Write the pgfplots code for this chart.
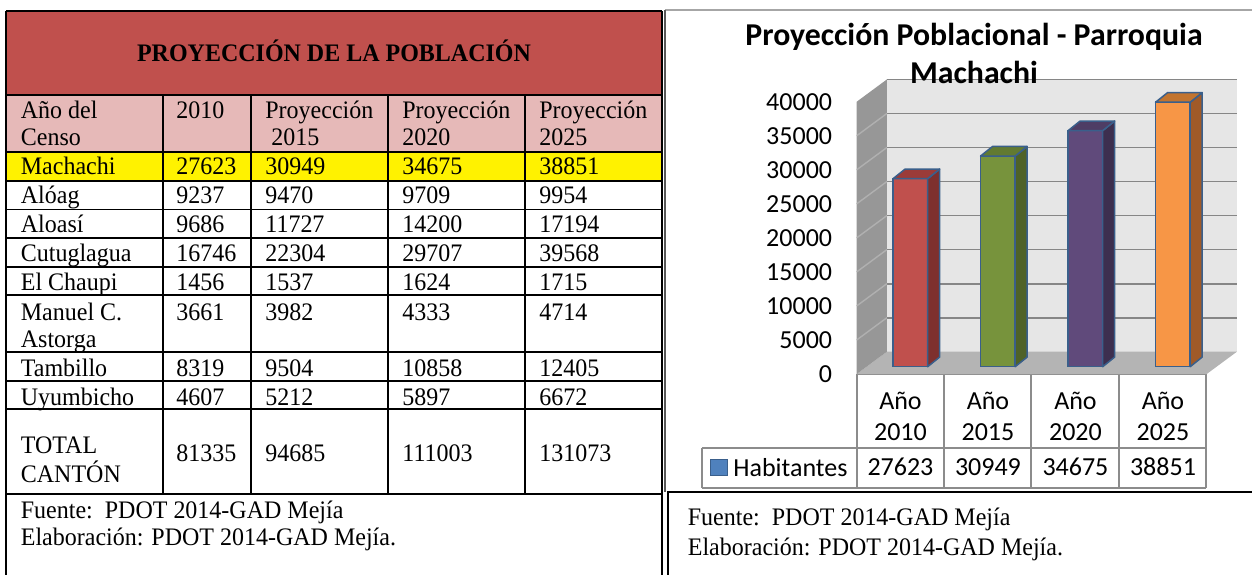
\documentclass[border=0pt]{standalone}
\usepackage{pgfplots}
\pgfplotsset{compat=1.18}
\usepackage{fontspec}
\setmainfont{Liberation Serif}[FakeStretch=0.952]
\newfontfamily\calfont{Carlito}
\definecolor{hdrred}{HTML}{C0504D}
\definecolor{hdrpink}{HTML}{E6B9B8}
\definecolor{outl}{HTML}{3A5F8B}
\definecolor{legblue}{HTML}{4F81BD}
\definecolor{backw}{HTML}{E6E6E6}
\definecolor{leftw}{HTML}{979797}
\definecolor{floorw}{HTML}{B4B4B4}
\definecolor{gridc}{HTML}{868686}
\definecolor{lwline}{HTML}{B0B0B0}
\definecolor{tabgray}{HTML}{8C8C8C}
\definecolor{rfront}{HTML}{C0504D}\definecolor{rside}{HTML}{7E302E}\definecolor{rtop}{HTML}{9B3B39}
\definecolor{gfront}{HTML}{77933C}\definecolor{gside}{HTML}{4F6228}\definecolor{gtop}{HTML}{627A31}
\definecolor{pfront}{HTML}{604A7B}\definecolor{pside}{HTML}{3D2F4F}\definecolor{ptop}{HTML}{4E3D65}
\definecolor{ofront}{HTML}{F79646}\definecolor{oside}{HTML}{A05A28}\definecolor{otop}{HTML}{C2742F}
\newcommand\T[3]{\node[anchor=base west,inner sep=0pt,font=\fontsize{12.6}{14.4}\selectfont] at (#1,#2) {#3};}
\newcommand\Row[6]{\T{20.5}{#1}{#2}\T{176}{#1}{#3}\T{265}{#1}{#4}\T{402}{#1}{#5}\T{539}{#1}{#6}}
\begin{document}
\begin{tikzpicture}
\path[use as bounding box] (0,0) rectangle (626pt,-287.5pt);
\begin{scope}[x=0.5pt,y=-0.5pt]
% ---------- left table ----------
\fill[hdrred] (6,11) rectangle (662,95);
\fill[hdrpink] (6,95) rectangle (662,152);
\fill[yellow] (6,152) rectangle (662,181);
\begin{scope}[line width=0.8pt]
\foreach \yy in {11,95,152,181,209.5,238,267,295,352,381,409,494}
  \draw (6,\yy) -- (662,\yy);
\draw (6,11) -- (6,575);
\draw (662,11) -- (662,575);
\foreach \xx in {163,251,388,525}
  \draw (\xx,95) -- (\xx,494);
\end{scope}
\node[anchor=base,inner sep=0pt,font=\bfseries\fontsize{12.6}{14.4}\selectfont] at (334,61.6) {PROYECCIÓN DE LA POBLACIÓN};
\T{20.5}{118.3}{Año del}\T{20.5}{145.8}{Censo}
\T{176}{118.3}{2010}
\T{265}{118.3}{Proyección}\T{271}{145.8}{2015}
\T{402}{118.3}{Proyección}\T{402}{145.8}{2020}
\T{539}{118.3}{Proyección}\T{539}{145.8}{2025}
\Row{174.3}{Machachi}{27623}{30949}{34675}{38851}
\Row{203.3}{Alóag}{9237}{9470}{9709}{9954}
\Row{232.3}{Aloasí}{9686}{11727}{14200}{17194}
\Row{261.3}{Cutuglagua}{16746}{22304}{29707}{39568}
\Row{290.3}{El Chaupi}{1456}{1537}{1624}{1715}
\Row{320.3}{Manuel C.}{3661}{3982}{4333}{4714}
\T{20.5}{347.3}{Astorga}
\Row{376.3}{Tambillo}{8319}{9504}{10858}{12405}
\Row{405.3}{Uyumbicho}{4607}{5212}{5897}{6672}
\Row{461.3}{}{81335}{94685}{111003}{131073}
\T{20.5}{453.8}{TOTAL}\T{20.5}{482.3}{CANTÓN}
\T{20.5}{518.3}{Fuente:\ \ PDOT 2014-GAD Mejía}
\T{20.5}{545.3}{Elaboración: PDOT 2014-GAD Mejía.}
% ---------- right frame ----------
\draw[gray!70,line width=0.6pt] (665,10) -- (1252,10);
\draw[gray!70!black,line width=0.6pt] (665,10) -- (665,491.7);
\draw[line width=0.9pt] (1252,491.7) -- (668,491.7) -- (668,575);
\T{687.5}{525}{Fuente:\ \ PDOT 2014-GAD Mejía}
\T{687.5}{555}{Elaboración: PDOT 2014-GAD Mejía.}
% chart data table
\begin{scope}[tabgray,line width=1pt]
\draw (857,374) -- (1206,374);
\foreach \xx in {857,944,1031,1118.5,1206}
  \draw (\xx,374) -- (\xx,488.3);
\draw (702.3,447.7) -- (1206,447.7);
\draw (702.3,488.3) -- (1206,488.3);
\draw (702.3,447.7) -- (702.3,488.3);
\end{scope}
\filldraw[fill=legblue,draw=outl,line width=0.5pt] (710.7,459) rectangle (727.3,475.7);
\node[anchor=base west,inner sep=0pt,font=\calfont\fontsize{13}{15.5}\selectfont] at (733,476) {Habitantes};
\end{scope}
% ---------- chart ----------
\begin{axis}[
  at={(433.3pt,-183.35pt)}, anchor=south west,
  width=175pt, height=136.15pt, scale only axis,
  xmin=-0.5, xmax=3.5, ymin=0, ymax=40000,
  clip=false,
  axis line style={draw=none}, major tick length=0pt,
  scaled y ticks=false,
  /pgf/number format/1000 sep={},
  /pgf/number format/assume math mode=true,
  ytick={0,5000,...,40000},
  yticklabel style={font=\calfont\fontsize{13}{15.5}\selectfont, anchor=east, inner sep=0pt, xshift=-17.05pt, yshift=-3.65pt},
  xtick={0,1,2,3},
  xticklabels={{\begin{tabular}[t]{@{}c@{}}Año\\2010\\[2.3pt]27623\end{tabular}},
               {\begin{tabular}[t]{@{}c@{}}Año\\2015\\[2.3pt]30949\end{tabular}},
               {\begin{tabular}[t]{@{}c@{}}Año\\2020\\[2.3pt]34675\end{tabular}},
               {\begin{tabular}[t]{@{}c@{}}Año\\2025\\[2.3pt]38851\end{tabular}}},
  xticklabel style={font=\calfont\fontsize{13}{15.5}\selectfont, anchor=base, inner sep=0pt, xshift=-4.95pt, yshift=-21.15pt},
]
% walls
\addplot[fill=backw,draw=none] coordinates {(-0.268,2204) (3.732,2204) (3.732,42204) (-0.268,42204)} -- cycle;
\addplot[fill=floorw,draw=none] coordinates {(-0.613,-1071) (3.387,-1071) (3.732,2204) (-0.268,2204)} -- cycle;
\addplot[fill=leftw,draw=none] coordinates {(-0.613,-1071) (-0.268,2204) (-0.268,42204) (-0.613,38929)} -- cycle;
\draw[gridc,line width=0.9pt] (axis cs:-0.268,7204) -- (axis cs:3.732,7204);
\draw[gridc,line width=0.9pt] (axis cs:-0.268,12204) -- (axis cs:3.732,12204);
\draw[gridc,line width=0.9pt] (axis cs:-0.268,17204) -- (axis cs:3.732,17204);
\draw[gridc,line width=0.9pt] (axis cs:-0.268,22204) -- (axis cs:3.732,22204);
\draw[gridc,line width=0.9pt] (axis cs:-0.268,27204) -- (axis cs:3.732,27204);
\draw[gridc,line width=0.9pt] (axis cs:-0.268,32204) -- (axis cs:3.732,32204);
\draw[gridc,line width=0.9pt] (axis cs:-0.268,37204) -- (axis cs:3.732,37204);
\draw[gridc,line width=0.9pt] (axis cs:-0.268,42204) -- (axis cs:3.732,42204);
\draw[lwline,line width=0.7pt] (axis cs:-0.613,3929) -- (axis cs:-0.268,7204);
\draw[lwline,line width=0.7pt] (axis cs:-0.613,8929) -- (axis cs:-0.268,12204);
\draw[lwline,line width=0.7pt] (axis cs:-0.613,13929) -- (axis cs:-0.268,17204);
\draw[lwline,line width=0.7pt] (axis cs:-0.613,18929) -- (axis cs:-0.268,22204);
\draw[lwline,line width=0.7pt] (axis cs:-0.613,23929) -- (axis cs:-0.268,27204);
\draw[lwline,line width=0.7pt] (axis cs:-0.613,28929) -- (axis cs:-0.268,32204);
\draw[lwline,line width=0.7pt] (axis cs:-0.613,33929) -- (axis cs:-0.268,37204);
% bars
\addplot[ybar, bar width=0.3954, bar shift=0, fill=rfront, draw=outl, line width=0.75pt] coordinates {(0,27623)};
\addplot[fill=rside, draw=outl, line width=0.75pt, line join=round] coordinates {(0.1977,0) (0.3347,1410) (0.3347,29033) (0.1977,27623)} -- cycle;
\addplot[fill=rtop, draw=outl, line width=0.75pt, line join=round] coordinates {(-0.1977,27623) (0.1977,27623) (0.3347,29033) (-0.0607,29033)} -- cycle;
\addplot[ybar, bar width=0.3954, bar shift=0, fill=gfront, draw=outl, line width=0.75pt] coordinates {(1,30949)};
\addplot[fill=gside, draw=outl, line width=0.75pt, line join=round] coordinates {(1.1977,0) (1.3347,1410) (1.3347,32359) (1.1977,30949)} -- cycle;
\addplot[fill=gtop, draw=outl, line width=0.75pt, line join=round] coordinates {(0.8023,30949) (1.1977,30949) (1.3347,32359) (0.9393,32359)} -- cycle;
\addplot[ybar, bar width=0.3954, bar shift=0, fill=pfront, draw=outl, line width=0.75pt] coordinates {(2,34675)};
\addplot[fill=pside, draw=outl, line width=0.75pt, line join=round] coordinates {(2.1977,0) (2.3347,1410) (2.3347,36085) (2.1977,34675)} -- cycle;
\addplot[fill=ptop, draw=outl, line width=0.75pt, line join=round] coordinates {(1.8023,34675) (2.1977,34675) (2.3347,36085) (1.9393,36085)} -- cycle;
\addplot[ybar, bar width=0.3954, bar shift=0, fill=ofront, draw=outl, line width=0.75pt] coordinates {(3,38851)};
\addplot[fill=oside, draw=outl, line width=0.75pt, line join=round] coordinates {(3.1977,0) (3.3347,1410) (3.3347,40261) (3.1977,38851)} -- cycle;
\addplot[fill=otop, draw=outl, line width=0.75pt, line join=round] coordinates {(2.8023,38851) (3.1977,38851) (3.3347,40261) (2.9393,40261)} -- cycle;
\end{axis}
\begin{scope}[x=0.5pt,y=-0.5pt]
\node[anchor=base,inner sep=0pt,font=\calfont\bfseries\fontsize{15.9}{18}\selectfont] at (974,45) {Proyección Poblacional - Parroquia};
\node[anchor=base,inner sep=0pt,font=\calfont\bfseries\fontsize{15.9}{18}\selectfont] at (974,83) {Machachi};
\end{scope}
\end{tikzpicture}
\end{document}
